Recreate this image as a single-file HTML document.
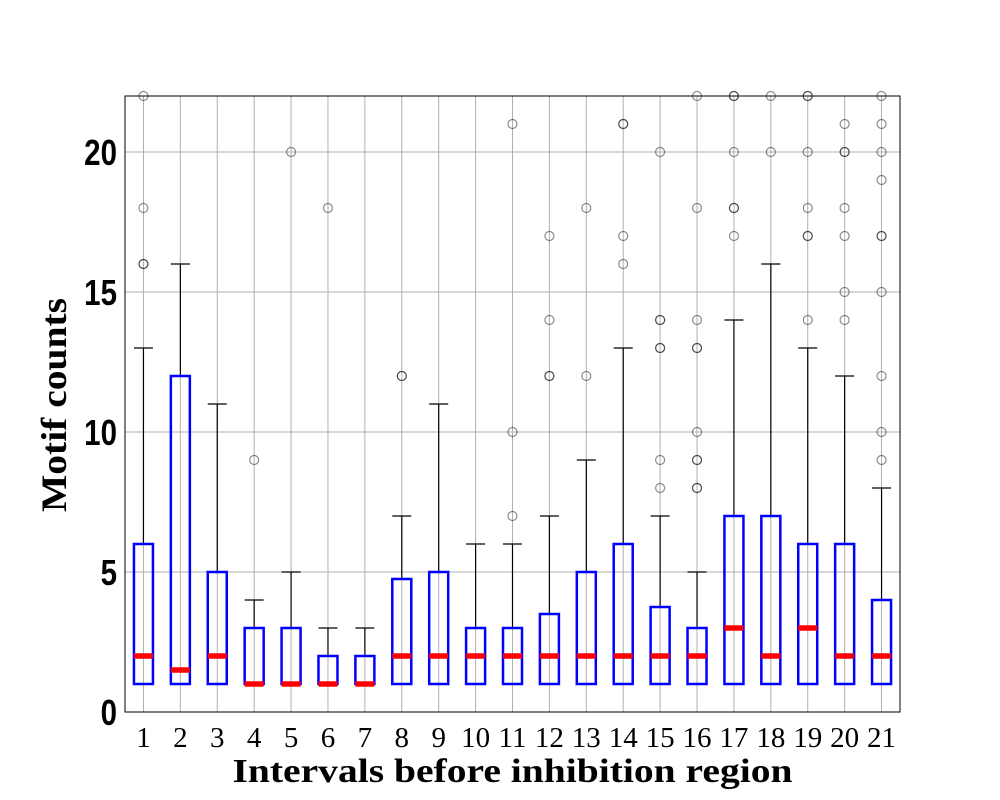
<!DOCTYPE html>
<html><head><meta charset="utf-8"><style>
body{margin:0;background:#fff;}
svg{display:block;}
</style></head><body>
<svg id="chart" width="1000" height="800" xmlns="http://www.w3.org/2000/svg"></svg>
<script>
const categories=["1","2","3","4","5","6","7","8","9","10","11","12","13","14","15","16","17","18","19","20","21"];
const q1Values=[1,1,1,1,1,1,1,1,1,1,1,1,1,1,1,1,1,1,1,1,1];
const medianValues=[2,1.5,2,1,1,1,1,2,2,2,2,2,2,2,2,2,3,2,3,2,2];
const q3Values=[6,12,5,3,3,2,2,4.75,5,3,3,3.5,5,6,3.75,3,7,7,6,6,4];
const whiskerLow=[1,1,1,1,1,1,1,1,1,1,1,1,1,1,1,1,1,1,1,1,1];
const whiskerHigh=[13,16,11,4,5,3,3,7,11,6,6,7,9,13,7,5,14,16,13,12,8];
const outliers=[[16,16,18,22],[],[],[9],[20],[18],[],[12,12],[],[],[7,10,21],[12,12,14,17],[12,18],[16,17,21,21],[8,9,13,13,14,14,20],[8,8,9,9,10,13,13,14,18,22],[17,18,18,20,22,22],[20,22],[14,17,17,18,20,22,22],[14,15,17,18,20,20,21],[9,10,12,15,17,17,19,20,21,22]];
const yTicks=[0,5,10,15,20];

const NS="http://www.w3.org/2000/svg";
const svg=document.getElementById('chart');
const L=125,R=900,T=96,B=712,yMin=0,yMax=22;
const xs=i=>L+(i+0.5)*(R-L)/categories.length;
const ys=v=>B-(v-yMin)/(yMax-yMin)*(B-T);
function mk(tag,attrs,parent){const e=document.createElementNS(NS,tag);for(const k in attrs)e.setAttribute(k,attrs[k]);(parent||svg).appendChild(e);return e;}

yTicks.forEach(t=>{
  const g=mk('line',{x1:L,x2:R,y1:ys(t),y2:ys(t),stroke:'#b0b0b0','stroke-width':1});
  
  
  const px=L-8,py=ys(t)+13;
  const tx=mk('text',{x:px,y:py,'text-anchor':'end','font-family':'Liberation Sans, sans-serif','font-weight':'bold','font-size':36,transform:`translate(${px},${py}) scale(0.82,1) translate(${-px},${-py})`});
  tx.textContent=t;
  
  
});
categories.forEach((c,i)=>{
  const g=mk('line',{x1:xs(i),x2:xs(i),y1:T,y2:B,stroke:'#b0b0b0','stroke-width':1});
  
  
  const tx=mk('text',{x:xs(i),y:B+35,'text-anchor':'middle','font-family':'Liberation Serif, serif','font-size':29});
  tx.textContent=c;
  
  
});

const hw=9.5,cw=9.5;
categories.forEach((c,i)=>{
  const x=xs(i);
  const g=mk('g',{});
  
  
  mk('line',{x1:x,x2:x,y1:ys(q3Values[i]),y2:ys(whiskerHigh[i]),stroke:'#000','stroke-width':1.2},g);
  mk('line',{x1:x,x2:x,y1:ys(q1Values[i]),y2:ys(whiskerLow[i]),stroke:'#000','stroke-width':1.2},g);
  mk('line',{x1:x-cw,x2:x+cw,y1:ys(whiskerHigh[i]),y2:ys(whiskerHigh[i]),stroke:'#000','stroke-width':1.2},g);
  mk('line',{x1:x-cw,x2:x+cw,y1:ys(whiskerLow[i]),y2:ys(whiskerLow[i]),stroke:'#000','stroke-width':1.2},g);
  mk('rect',{x:x-hw,y:ys(q3Values[i]),width:2*hw,height:ys(q1Values[i])-ys(q3Values[i]),fill:'none',stroke:'#0000ff','stroke-width':2.5},g);
  mk('line',{x1:x-hw,x2:x+hw,y1:ys(medianValues[i]),y2:ys(medianValues[i]),stroke:'#ff0000','stroke-width':5.5},g);
  outliers[i].forEach(v=>{
    const o=mk('circle',{cx:x,cy:ys(v),r:4.5,fill:'none',stroke:'rgba(0,0,0,0.45)','stroke-width':1.2},g);
    
    
  });
});

const frame=mk('rect',{x:L,y:T,width:R-L,height:B-T,fill:'none',stroke:'#000','stroke-width':1});



const xl=mk('text',{x:(L+R)/2,y:782,'text-anchor':'middle','font-family':'Liberation Serif, serif','font-weight':'bold','font-size':34,textLength:560,lengthAdjust:'spacingAndGlyphs'});
xl.textContent='Intervals before inhibition region';


const yl=mk('text',{x:0,y:0,'text-anchor':'middle','font-family':'Liberation Serif, serif','font-weight':'bold','font-size':36,textLength:214,lengthAdjust:'spacingAndGlyphs',transform:'translate(66,405) rotate(-90)'});
yl.textContent='Motif counts';


</script>
</body></html>
